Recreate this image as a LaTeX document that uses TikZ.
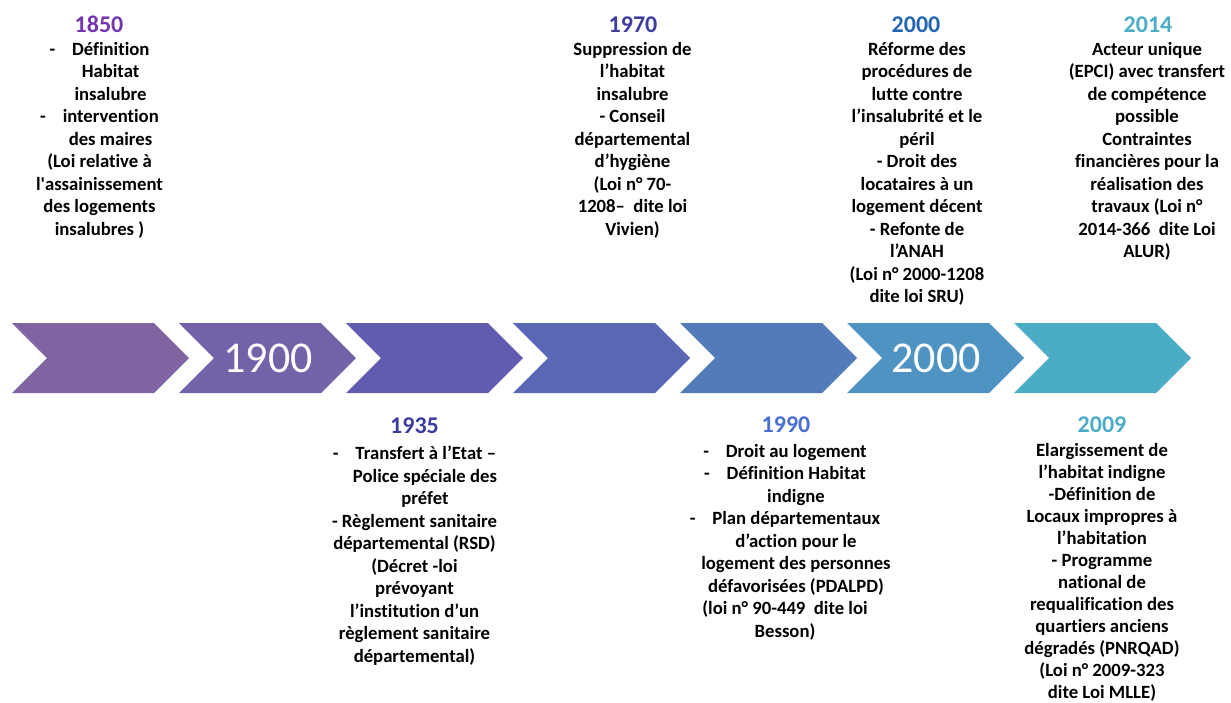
\documentclass[tikz,border=0pt]{standalone}
\usepackage{fontspec}
\setmainfont{Carlito}[Ligatures={TeX,NoCommon}]
% chevron fills, purple to aqua
\definecolor{chevA}{HTML}{8064A2}
\definecolor{chevB}{HTML}{7462A8}
\definecolor{chevC}{HTML}{605CAF}
\definecolor{chevD}{HTML}{5A67B4}
\definecolor{chevE}{HTML}{537BBA}
\definecolor{chevF}{HTML}{4F93C2}
\definecolor{chevG}{HTML}{4BACC6}
% year headings
\definecolor{colPurple}{HTML}{7436AE}
\definecolor{colIndigo}{HTML}{3D3D9E}
\definecolor{colBlue}{HTML}{4A6FD0}
\definecolor{colDeep}{HTML}{2364B4}
\definecolor{colAqua}{HTML}{4BACC6}
\begin{document}
\begin{tikzpicture}[x=1pt,y=-1pt,
  year/.style={font=\bfseries\fontsize{24}{28}\selectfont,anchor=base,inner sep=0pt},
  body/.style={font=\bfseries\fontsize{18.7}{22.5}\selectfont,align=center,anchor=north,
    inner sep=0pt,execute at begin node=\strut},
  chevyear/.style={font=\fontsize{44}{50}\selectfont,text=white,inner sep=0pt}]
\useasboundingbox (0,0) rectangle (1231,702);
% the arrow band
\foreach \i/\c in {0/chevA,1/chevB,2/chevC,3/chevD,4/chevE,5/chevF,6/chevG}
  \fill[\c] ({12+167*\i},323) -- ++(142,0) -- ++(35,35) -- ++(-35,35) -- ++(-142,0) -- ++(35,-35) -- cycle;
\node[chevyear] (lab1900) at (268,358) {1900};
\node[chevyear] (lab2000) at (936,358) {2000};
% above the band
\node[year,text=colPurple] (y1850) at (99,32) {1850};
\node[body] (t1850) at (99.5,42) {-\hspace{0.9em}Définition\\\hspace*{22pt}Habitat\\\hspace*{22pt}insalubre\\
  -\hspace{0.9em}intervention\\\hspace*{22pt}des maires\\(Loi relative à\\l\textquotesingle assainissement\\
  des logements\\insalubres )};
\node[year,text=colIndigo] (y1970) at (633,32) {1970};
\node[body] (t1970) at (632.5,42) {Suppression de\\l’habitat\\insalubre\\- Conseil\\départemental\\d’hygiène\\
  (Loi n° 70-\\1208–~ dite loi\\Vivien)};
\node[year,text=colDeep] (y2000) at (916,32) {2000};
\node[body] (t2000) at (917,42) {Réforme des\\procédures de\\lutte contre\\l’insalubrité et le\\péril\\
  - Droit des\\locataires à un\\logement décent\\- Refonte de\\l’ANAH\\(Loi n° 2000-1208\\dite loi SRU)};
\node[year,text=colAqua] (y2014) at (1148,32) {2014};
\node[body] (t2014) at (1147,42) {Acteur unique\\(EPCI) avec transfert\\de compétence\\possible\\Contraintes\\
  financières pour la\\réalisation des\\travaux (Loi n°\\2014-366~ dite Loi\\ALUR)};
% below the band
\node[year,text=colIndigo] (y1935) at (414.5,433) {1935};
\node[body] (t1935) at (414.5,446) {-\hspace{0.9em}Transfert à l’Etat –\\\hspace*{21pt}Police spéciale des\\
  \hspace*{21pt}préfet\\- Règlement sanitaire\\départemental (RSD)\\(Décret -loi\\prévoyant\\
  l’institution d’un\\règlement sanitaire\\départemental)};
\node[year,text=colBlue] (y1990) at (786,432) {1990};
\node[body] (t1990) at (785,444) {-\hspace{0.9em}Droit au logement\\-\hspace{0.9em}Définition Habitat\\
  \hspace*{22pt}indigne\\-\hspace{0.9em}Plan départementaux\\\hspace*{22pt}d’action pour le\\
  \hspace*{22pt}logement des personnes\\\hspace*{22pt}défavorisées (PDALPD)\\(loi n° 90-449~ dite loi\\Besson)};
\node[year,text=colAqua] (y2009) at (1102,432) {2009};
\node[body,font=\bfseries\fontsize{18.7}{22}\selectfont] (t2009) at (1102,443) {Elargissement de\\l’habitat indigne\\
  -Définition de\\Locaux impropres à\\l’habitation\\- Programme\\national de\\requalification des\\
  quartiers anciens\\dégradés (PNRQAD)\\(Loi n° 2009-323\\dite Loi MLLE)};
\end{tikzpicture}
\end{document}
